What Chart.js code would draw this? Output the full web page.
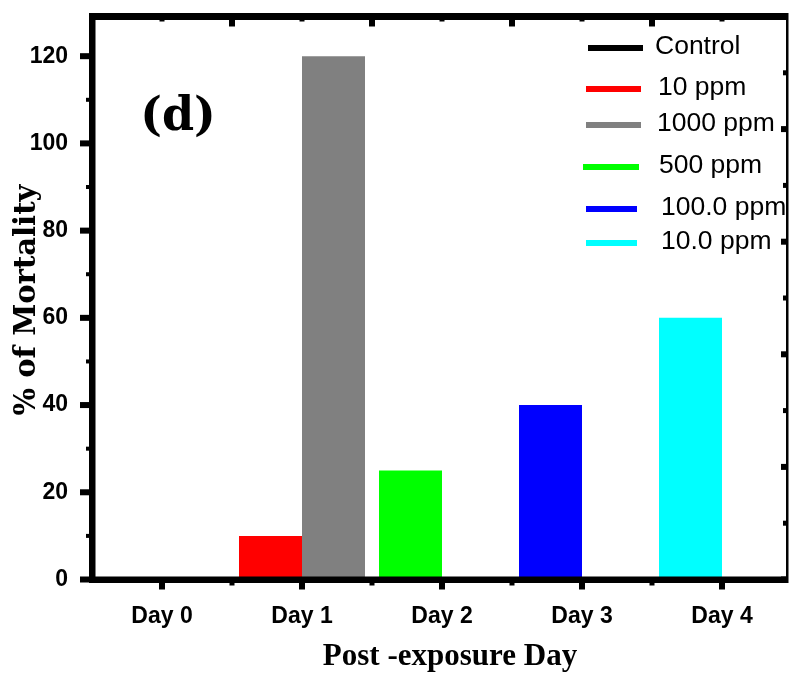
<!DOCTYPE html>
<html>
<head>
<meta charset="utf-8">
<script src="https://cdn.jsdelivr.net/npm/chart.js@4/dist/chart.umd.min.js"></script>
<style>
  html, body { margin: 0; padding: 0; background: #fff; overflow: hidden; }
  #wrap { width: 790px; height: 674px; position: relative; overflow: hidden; }
  #c { display: block; }
</style>
</head>
<body>
<div id="wrap"><canvas id="c" width="795" height="674"></canvas></div>
<script>
// ---- data ----
const categories = ['Day 0', 'Day 1', 'Day 2', 'Day 3', 'Day 4'];
const seriesNames = ['Control', '10 ppm', '1000 ppm', '500 ppm', '100.0 ppm', '10.0 ppm'];
const controlValues = [0, null, null, null, null];
const ppm10Values = [null, 10, null, null, null];
const ppm1000Values = [null, 120, null, null, null];
const ppm500Values = [null, null, 25, null, null];
const ppm100Values = [null, null, null, 40, null];
const ppm10_0Values = [null, null, null, null, 60];
const yTickValues = [0, 20, 40, 60, 80, 100, 120];
const yMax = 129.1;

const seriesColors = ['#000000', '#ff0000', '#808080', '#00ff00', '#0000ff', '#00ffff'];
const seriesStacks = ['L', 'L', 'R', 'L', 'L', 'L'];
const seriesValues = [controlValues, ppm10Values, ppm1000Values, ppm500Values, ppm100Values, ppm10_0Values];

const datasets = seriesNames.map((name, i) => ({
  label: name,
  data: seriesValues[i],
  backgroundColor: seriesColors[i],
  borderWidth: 0,
  stack: seriesStacks[i],
  barPercentage: 1.0,
  categoryPercentage: 0.9
}));

const SANS = '"Liberation Sans", Arial, sans-serif';
const SERIF = '"DejaVu Serif", serif';
const SERIF2 = '"Liberation Serif", "Times New Roman", serif';

function zeroPad(s) { s.paddingTop = 0; s.paddingBottom = 0; s.paddingLeft = 0; s.paddingRight = 0; }

const framePlugin = {
  id: 'frame',
  afterDatasetsDraw(chart) {
    const ctx = chart.ctx;
    const a = chart.chartArea;
    const xs = chart.scales.x, ys = chart.scales.y;
    const right = a.right - 5; // frame's right edge sits a little inside the category range
    ctx.save();
    ctx.fillStyle = '#000';
    // left y ticks (major, outward) and minor
    for (let v = 0; v <= 120; v += 10) {
      const py = ys.getPixelForValue(v);
      if (v % 20 === 0) ctx.fillRect(a.left - 12, py - 3, 12, 6);
      else ctx.fillRect(a.left - 6, py - 2, 6, 4);
    }
    // bottom x ticks
    for (let i = 0; i < categories.length; i++) {
      const px = xs.getPixelForValue(i);
      ctx.fillRect(px - 3, a.bottom, 6, 10);
      if (i < categories.length - 1) {
        const mx = (px + xs.getPixelForValue(i + 1)) / 2;
        ctx.fillRect(mx - 2.5, a.bottom, 5, 6);
      }
    }
    // top ticks (inward)
    for (let i = 0; i < categories.length; i++) {
      const px = xs.getPixelForValue(i);
      ctx.fillRect(px - 2.5, a.top, 5, 5);
      if (i < categories.length - 1) {
        const mx = (px + xs.getPixelForValue(i + 1)) / 2;
        ctx.fillRect(mx - 3, a.top, 6, 10);
      }
    }
    // right ticks (inward, independent 10-step scale)
    for (let k = 0; k <= 10; k++) {
      const py = a.bottom - (a.bottom - a.top) * k / 10;
      if (k % 2 === 0) ctx.fillRect(right - 6, py - 3, 6, 6);
      else ctx.fillRect(right - 4, py - 2.5, 4, 5);
    }
    // spines
    ctx.fillRect(a.left - 3, a.top - 3.5, right - a.left + 4, 7);   // top
    ctx.fillRect(a.left - 3, a.top - 3.5, 6.5, a.bottom - a.top + 7); // left
    ctx.fillRect(a.left - 3, a.bottom - 3, right - a.left + 4, 6.5); // bottom
    ctx.fillRect(right - 1, a.top - 3.5, 2.5, a.bottom - a.top + 7); // right

    // panel label
    ctx.font = 'bold 46px ' + SERIF;
    ctx.textAlign = 'center';
    ctx.textBaseline = 'middle';
    ctx.fillText('(d)', 178, 118);

    // legend
    const legY = [48, 89, 125, 167, 209, 243];
    const legX1 = [588, 586, 586, 583, 586, 586];
    const legX2 = [643, 641, 641, 639, 637, 637];
    const legTx = [655, 658, 657, 659, 661, 661];
    ctx.font = '26.5px ' + SANS;
    ctx.textAlign = 'left';
    ctx.textBaseline = 'middle';
    chart.data.datasets.forEach((ds, i) => {
      ctx.fillStyle = ds.backgroundColor;
      ctx.fillRect(legX1[i], legY[i] - 3, legX2[i] - legX1[i], 6);
      ctx.fillStyle = '#000';
      ctx.fillText(ds.label, legTx[i], legY[i] - 1);
    });

    // axis titles
    ctx.textAlign = 'center';
    ctx.textBaseline = 'middle';
    ctx.font = 'bold 31px ' + SERIF2;
    ctx.fillText('Post -exposure Day', 450, 657);
    ctx.save();
    ctx.font = 'bold 29px ' + SERIF;
    ctx.translate(27, 300);
    ctx.rotate(-Math.PI / 2);
    ctx.fillText('% of Mortality', 0, 0);
    ctx.restore();
    ctx.restore();
  }
};

new Chart(document.getElementById('c'), {
  type: 'bar',
  data: { labels: categories, datasets },
  options: {
    responsive: false,
    animation: false,
    devicePixelRatio: 1,
    layout: { padding: { top: 16.5, right: 3, left: 0, bottom: 0 } },
    plugins: { legend: { display: false }, title: { display: false }, tooltip: { enabled: false } },
    scales: {
      x: {
        stacked: true,
        offset: true,
        grid: { display: false, drawTicks: false },
        border: { display: false },
        ticks: { color: '#000', font: { family: SANS, size: 23, weight: 'bold' }, padding: 23, maxRotation: 0 },
        afterFit(s) { s.height = 674 - 579.5; zeroPad(s); }
      },
      y: {
        stacked: true,
        min: 0,
        max: yMax,
        grid: { display: false, drawTicks: false },
        border: { display: false },
        afterBuildTicks(s) { s.ticks = yTickValues.map(v => ({ value: v })); },
        ticks: { color: '#000', font: { family: SANS, size: 23, weight: 'bold' }, padding: 24 },
        afterFit(s) { s.width = 92; zeroPad(s); }
      }
    }
  },
  plugins: [framePlugin]
});
</script>
</body>
</html>
